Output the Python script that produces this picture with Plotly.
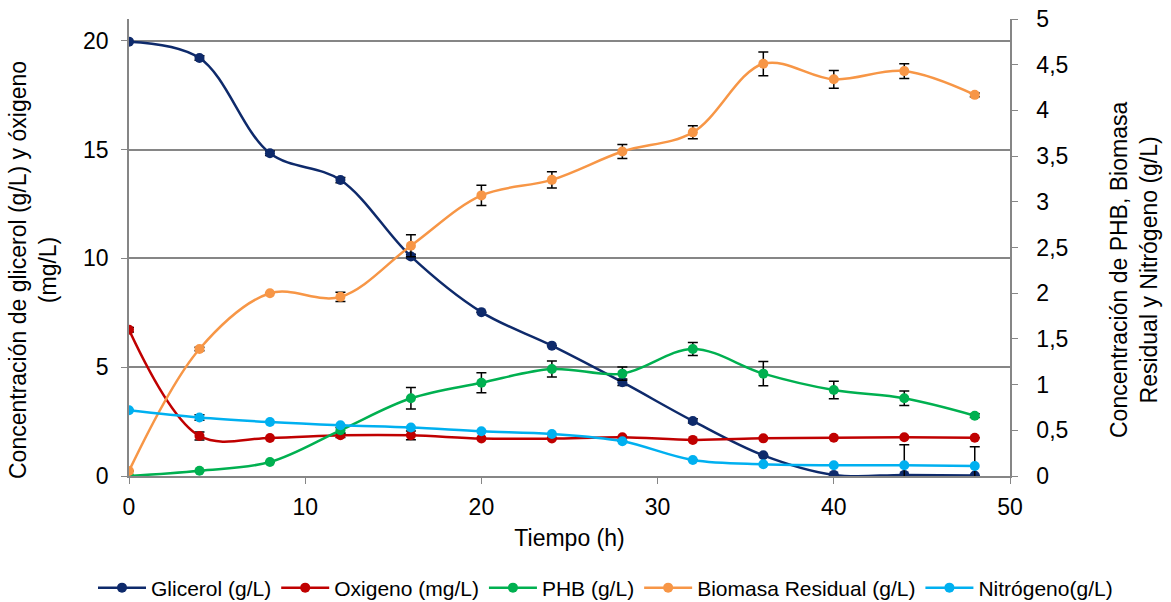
import plotly.graph_objects as go

tiempo = [0, 4, 8, 12, 16, 20, 24, 28, 32, 36, 40, 44, 48]

glicerol = [19.96, 19.21, 14.83, 13.60, 10.09, 7.53, 5.99, 4.31, 2.53, 0.95, 0.05, 0.05, 0.02]
glicerol_err = [0, 0.1, 0.1, 0.12, 0.1, 0, 0, 0.15, 0.1, 0, 0, 0, 0]

oxigeno = [6.72, 1.84, 1.75, 1.87, 1.87, 1.72, 1.72, 1.78, 1.66, 1.73, 1.76, 1.78, 1.76]
oxigeno_err = [0.1, 0.18, 0, 0.1, 0.2, 0, 0, 0, 0, 0, 0, 0, 0]

phb = [0.0, 0.058, 0.153, 0.50, 0.85, 1.02, 1.17, 1.12, 1.39, 1.12, 0.94, 0.85, 0.66]
phb_err = [0, 0, 0, 0.03, 0.118, 0.11, 0.088, 0.073, 0.071, 0.133, 0.096, 0.08, 0.02]

biomasa = [0.055, 1.39, 2.0, 1.96, 2.52, 3.07, 3.24, 3.55, 3.76, 4.51, 4.34, 4.43, 4.17]
biomasa_err = [0, 0.02, 0, 0.05, 0.12, 0.11, 0.09, 0.077, 0.071, 0.13, 0.097, 0.08, 0.02]

nitrogeno = [0.72, 0.64, 0.59, 0.555, 0.53, 0.49, 0.46, 0.38, 0.175, 0.128, 0.117, 0.117, 0.11]
nitrogeno_err = [0, 0.03, 0, 0, 0, 0, 0, 0, 0, 0, 0, 0.225, 0.21]

titulo_izq = "Concentración de glicerol (g/L) y óxigeno<br>(mg/L)"
titulo_der = "Concentración de PHB, Biomasa<br>Residual y Nitrógeno (g/L)"

FONT = "Arial, Liberation Sans, sans-serif"

series = [
    ("Glicerol (g/L)", glicerol, glicerol_err, "#0E2A6B", "y"),
    ("Oxigeno (mg/L)", oxigeno, oxigeno_err, "#C00000", "y"),
    ("PHB (g/L)", phb, phb_err, "#00B050", "y2"),
    ("Biomasa Residual (g/L)", biomasa, biomasa_err, "#F79646", "y2"),
    ("Nitrógeno(g/L)", nitrogeno, nitrogeno_err, "#00B0F0", "y2"),
]

fig = go.Figure()
for name, vals, err, color, ax in series:
    fig.add_trace(go.Scatter(
        x=tiempo, y=vals, name=name, yaxis=ax,
        mode="lines+markers",
        line=dict(color=color, width=2.5, shape="spline", smoothing=1.0),
        marker=dict(color=color, size=10),
        error_y=dict(type="data", array=err, visible=True, color="black",
                     thickness=1.5, width=5),
    ))

# plot area: x 129..1010 px, y 19..476 px
PW, PH = 881.0, 457.0
def px_x(px):
    return (px - 129) / PW
def px_y(py):
    return (476 - py) / PH

fig.update_layout(
    width=1171, height=602,
    margin=dict(l=129, r=161, t=19, b=126, autoexpand=False),
    paper_bgcolor="white", plot_bgcolor="white",
    separators=",.",
    font=dict(family=FONT, size=23, color="black"),
    showlegend=True,
    legend=dict(orientation="h", x=px_x(1118), xanchor="right",
                y=px_y(588), yanchor="middle",
                font=dict(family=FONT, size=21, color="black"),
                itemwidth=48, tracegroupgap=0),
    xaxis=dict(range=[0, 50], tickvals=[0, 10, 20, 30, 40, 50],
               showline=True, linecolor="#868686", linewidth=1.5,
               ticks="outside", ticklen=6, tickcolor="#868686",
               ticklabelstandoff=4,
               showgrid=False, zeroline=False,
               title=dict(text="Tiempo (h)", font=dict(size=23), standoff=11)),
    yaxis=dict(range=[0, 21], tickvals=[0, 5, 10, 15, 20],
               showline=True, linecolor="#868686", linewidth=1.5,
               ticks="outside", ticklen=6, tickcolor="#868686",
               ticklabelstandoff=8,
               showgrid=True, gridcolor="#868686", gridwidth=1.5, zeroline=False),
    yaxis2=dict(range=[0, 5], tickvals=[0, 0.5, 1, 1.5, 2, 2.5, 3, 3.5, 4, 4.5, 5],
                overlaying="y", side="right",
                showline=True, linecolor="#868686", linewidth=1.5,
                ticks="outside", ticklen=6, tickcolor="#868686",
                ticklabelstandoff=14,
                showgrid=False, zeroline=False),
    annotations=[
        dict(text=titulo_izq, textangle=-90, xref="paper", yref="paper",
             x=px_x(33), y=px_y(270), xanchor="center", yanchor="middle",
             showarrow=False, font=dict(family=FONT, size=23, color="black")),
        dict(text=titulo_der, textangle=-90, xref="paper", yref="paper",
             x=px_x(1134), y=px_y(270), xanchor="center", yanchor="middle",
             showarrow=False, font=dict(family=FONT, size=23, color="black")),
    ],
)

fig.write_html("out.html")
